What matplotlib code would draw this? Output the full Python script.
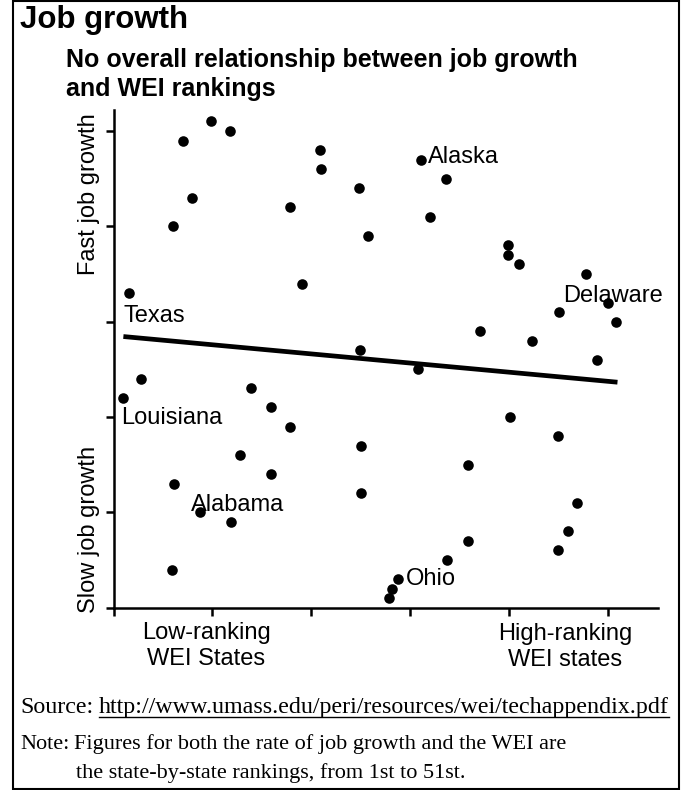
import matplotlib
matplotlib.use('Agg')
import matplotlib.pyplot as plt
from matplotlib.patches import Rectangle
from matplotlib.lines import Line2D

W, H = 685, 790
SANS = 'Liberation Sans'
SERIF = 'Liberation Serif'

# WEI position (low -> high) for each state, listed by job-growth position 51 (fast) .. 1 (slow)
growth_pos = list(range(51, 0, -1))
wei_pos = [9.9, 11.8, 7.0, 20.9, 31.1, 21.0, 33.6, 24.8, 7.9, 17.9,
           32.0, 6.0, 25.8, 39.9, 39.9, 41.0, 47.8, 19.1, 1.6, 50.0,
           45.1, 50.9, 37.1, 42.3, 24.9, 48.9, 30.8, 2.8, 13.9, 1.0,
           15.9, 40.1, 17.9, 45.0, 25.0, 12.8, 35.9, 15.9, 6.1, 25.0,
           46.9, 8.8, 11.9, 46.0, 35.9, 45.0, 33.7, 5.9, 28.8, 28.2,
           27.9]

# fitted trend line as drawn in the original
trend_x = [1.0, 51.0]
trend_y = [28.44, 23.65]

named_states = ['Alaska', 'Texas', 'Delaware', 'Louisiana', 'Alabama', 'Ohio']
named_growth = [47, 33, 32, 22, 10, 3]
# label offsets in pixels (text left/baseline relative to the dot)
label_offsets = [(7, -3), (-6, -29), (-44, 1), (-2, -26), (-10, 1), (8, -6)]


def fx(px):
    return px / W


def fy(py):
    return 1 - py / H


fig = plt.figure(figsize=(W / 100, H / 100), dpi=100)

ax = fig.add_axes([fx(113.5), fy(607.7), (658 - 113.5) / W, (607.7 - 110) / H])
ax.scatter(wei_pos, growth_pos, s=58, color='black', linewidths=0, zorder=3)
ax.plot(trend_x, trend_y, color='black', lw=3.4, solid_capstyle='butt', zorder=2)

for name, g, off in zip(named_states, named_growth, label_offsets):
    x = wei_pos[growth_pos.index(g)]
    ax.annotate(name, xy=(x, g), xytext=off, textcoords='offset pixels',
                ha='left', va='baseline', fontsize=17, family=SANS)

ax.set_xlim(0, 55.1)
ax.set_ylim(0, 52.2)
ax.set_xticks(range(0, 51, 10))
ax.set_yticks(range(0, 51, 10))
ax.set_xticklabels([])
ax.set_yticklabels([])
ax.tick_params(direction='out', length=6, width=1.8, color='black')
for side in ['top', 'right']:
    ax.spines[side].set_visible(False)
for side in ['left', 'bottom']:
    ax.spines[side].set_linewidth(1.8)

# axis captions
fig.text(fx(89), fy(194), 'Fast job growth', rotation=90, ha='center', va='center',
         fontsize=17, family=SANS)
fig.text(fx(89), fy(529), 'Slow job growth', rotation=90, ha='center', va='center',
         fontsize=17, family=SANS)
fig.text(fx(206), fy(639), 'Low-ranking', ha='center', va='baseline', fontsize=17, family=SANS)
fig.text(fx(206), fy(665), 'WEI States', ha='center', va='baseline', fontsize=17, family=SANS)
fig.text(fx(565), fy(640), 'High-ranking', ha='center', va='baseline', fontsize=17, family=SANS)
fig.text(fx(565), fy(666), 'WEI states', ha='center', va='baseline', fontsize=17, family=SANS)

# titles
fig.text(fx(20), fy(28), 'Job growth', ha='left', va='baseline', fontsize=22.5,
         weight='bold', family=SANS)
fig.text(fx(66), fy(67), 'No overall relationship between job growth', ha='left',
         va='baseline', fontsize=18, weight='bold', family=SANS)
fig.text(fx(66), fy(96), 'and WEI rankings', ha='left', va='baseline', fontsize=18,
         weight='bold', family=SANS)

# source and note
src = fig.text(fx(20), fy(713), 'Source:', ha='left', va='baseline', fontsize=17.3, family=SERIF)
note = fig.text(fx(20), fy(749), 'Note:', ha='left', va='baseline', fontsize=16, family=SERIF)
fig.text(fx(76), fy(778), 'the state-by-state rankings, from 1st to 51st.',
         ha='left', va='baseline', fontsize=16, family=SERIF)

fig.canvas.draw()
renderer = fig.canvas.get_renderer()
nb = note.get_window_extent(renderer)
fig.text((nb.x1 + 5) / W, fy(749), 'Figures for both the rate of job growth and the WEI are',
         ha='left', va='baseline', fontsize=16, family=SERIF)
bb = src.get_window_extent(renderer)
url = fig.text((bb.x1 + 6) / W, fy(713), 'http://www.umass.edu/peri/resources/wei/techappendix.pdf',
               ha='left', va='baseline', fontsize=17.3, family=SERIF)
fig.canvas.draw()
ub = url.get_window_extent(renderer)
fig.add_artist(Line2D([ub.x0 / W, ub.x1 / W], [fy(716.5), fy(716.5)],
                      transform=fig.transFigure, color='black', lw=1))

# outer frame
fig.add_artist(Rectangle((fx(13), fy(789)), (679 - 13) / W, (789 - 1) / H,
                         transform=fig.transFigure, fill=False, ec='black', lw=1.5))

fig.savefig('out.png', dpi=100)
